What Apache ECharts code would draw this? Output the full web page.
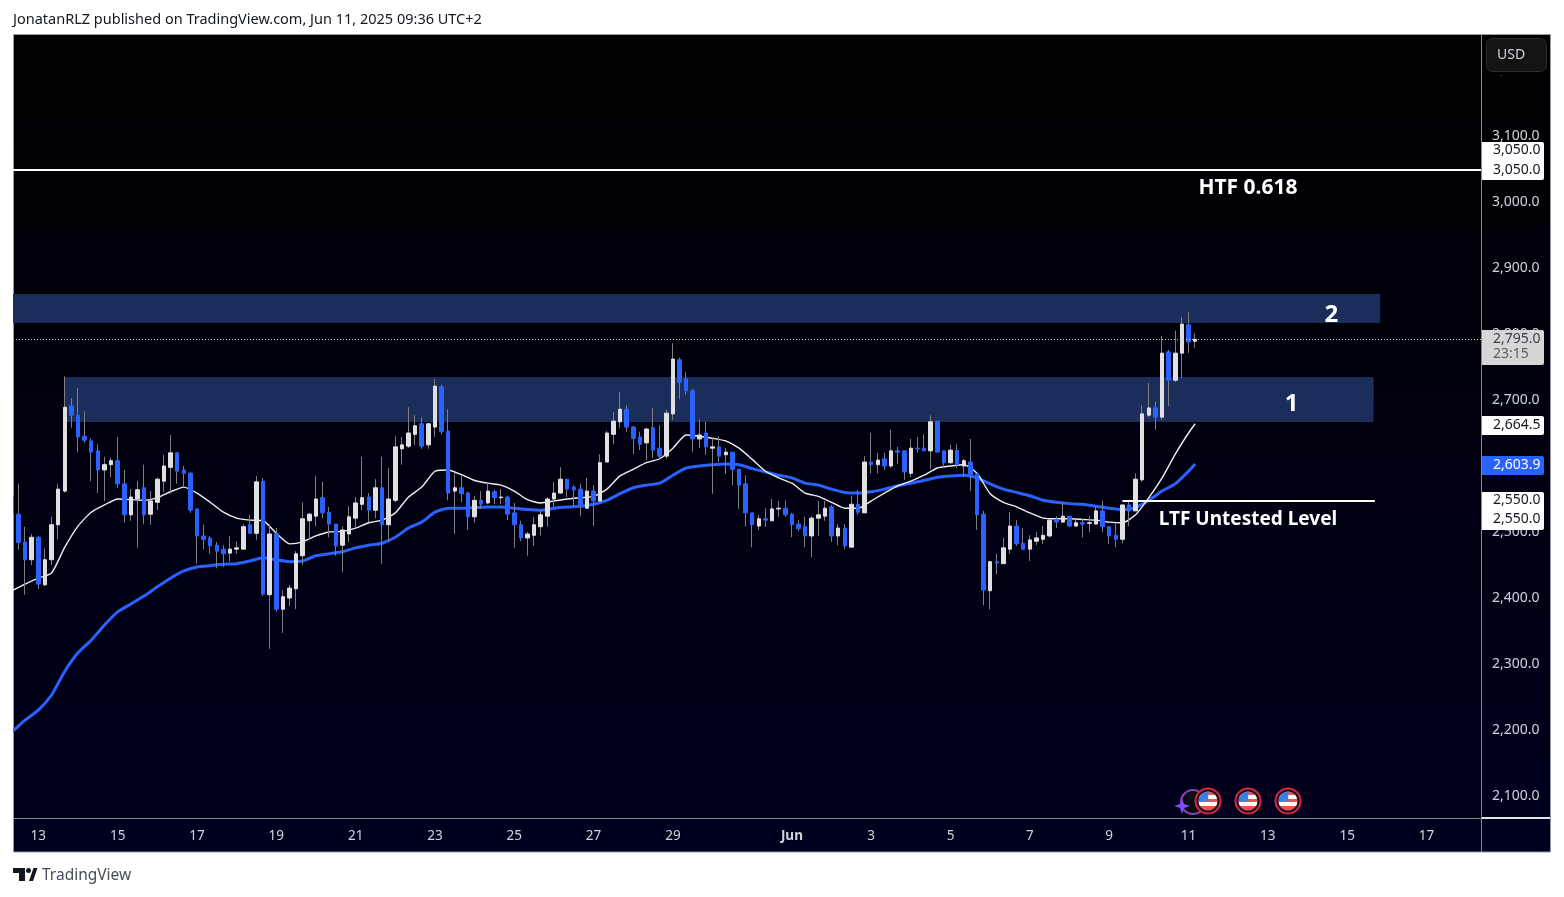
<!DOCTYPE html>
<html>
<head>
<meta charset="utf-8">
<style>html,body{margin:0;padding:0;background:#fff}#chart{width:1564px;height:897px}</style>
<script src="https://cdn.jsdelivr.net/npm/echarts@6/dist/echarts.min.js"></script>
</head>
<body>
<div id="chart"></div>
<script>
// 4h candles, first bar May 12 08:00 UTC
const firstBar = Date.UTC(2025, 4, 12, 8)
const barMs = 4 * 3600 * 1000

const opens = [
  2554,2527,2485,2458,2492,2420,2458,2511,2562,2691,
  2677,2645,2638,2623,2594,2602,2608,2573,2526,2550,
  2567,2527,2545,2577,2598,2620,2594,2589,2535,2494,
  2491,2480,2474,2468,2474,2474,2511,2498,2577,2405,
  2497,2383,2400,2414,2464,2517,2524,2552,2530,2512,
  2480,2497,2521,2542,2553,2533,2567,2511,2548,2626,
  2630,2648,2664,2632,2659,2720,2653,2562,2567,2559,
  2523,2548,2544,2561,2552,2553,2529,2511,2491,2495,
  2508,2524,2550,2559,2580,2568,2565,2536,2562,2547,
  2606,2648,2667,2686,2659,2644,2635,2658,2627,2615,
  2679,2761,2732,2714,2641,2650,2627,2629,2617,2621,
  2595,2573,2529,2509,2520,2517,2535,2536,2527,2512,
  2508,2494,2521,2524,2538,2494,2506,2477,2542,2529,
  2606,2602,2611,2600,2623,2623,2589,2627,2627,2623,
  2668,2623,2605,2624,2600,2606,2588,2527,2411,2455,
  2452,2474,2509,2483,2474,2486,2489,2494,2519,2515,
  2524,2509,2514,2513,2512,2532,2508,2495,2489,2541,
  2532,2579,2677,2688,2674,2773,2730,2771,2814,2789
]
const closes = [
  2528,2484,2458,2492,2421,2458,2511,2565,2689,2677,
  2644,2639,2621,2594,2602,2608,2573,2526,2553,2564,
  2526,2547,2580,2600,2620,2592,2589,2533,2494,2489,
  2479,2471,2467,2474,2476,2508,2498,2576,2406,2497,
  2383,2402,2415,2467,2520,2527,2550,2529,2512,2479,
  2503,2523,2544,2552,2533,2567,2511,2550,2629,2632,
  2650,2661,2630,2664,2721,2652,2559,2567,2558,2523,
  2548,2542,2562,2552,2553,2527,2511,2491,2497,2511,
  2526,2550,2559,2580,2565,2564,2539,2562,2547,2605,
  2650,2668,2686,2659,2642,2633,2656,2624,2615,2680,
  2762,2727,2714,2641,2647,2629,2629,2615,2621,2595,
  2571,2529,2511,2520,2518,2535,2536,2526,2511,2505,
  2494,2521,2526,2536,2494,2506,2479,2542,2530,2606,
  2602,2609,2600,2623,2621,2591,2627,2626,2623,2667,
  2621,2605,2624,2602,2608,2586,2526,2412,2455,2453,
  2476,2509,2482,2474,2488,2491,2495,2518,2515,2524,
  2509,2514,2512,2514,2532,2508,2494,2489,2541,2532,
  2580,2679,2688,2674,2771,2730,2771,2815,2788,2792
]
const highs = [
  2569,2573,2508,2497,2494,2475,2523,2573,2736,2703,
  2718,2683,2642,2633,2614,2612,2644,2594,2565,2577,
  2602,2562,2582,2617,2647,2621,2600,2591,2535,2511,
  2494,2485,2480,2494,2486,2512,2526,2585,2582,2512,
  2506,2412,2420,2471,2545,2529,2585,2576,2538,2512,
  2509,2539,2553,2614,2559,2580,2614,2597,2645,2644,
  2689,2677,2674,2664,2732,2723,2686,2589,2586,2561,
  2555,2562,2574,2564,2565,2555,2544,2517,2500,2523,
  2533,2553,2576,2598,2580,2571,2573,2582,2571,2618,
  2653,2682,2712,2692,2661,2652,2658,2688,2662,2685,
  2786,2764,2742,2717,2671,2667,2642,2645,2627,2621,
  2595,2586,2529,2526,2536,2550,2547,2548,2529,2518,
  2523,2524,2547,2547,2541,2512,2512,2555,2564,2615,
  2650,2620,2620,2655,2629,2623,2641,2644,2648,2677,
  2668,2623,2632,2633,2611,2641,2588,2532,2456,2467,
  2491,2530,2518,2506,2495,2500,2509,2520,2524,2545,
  2524,2518,2520,2524,2539,2547,2508,2514,2541,2547,
  2589,2692,2726,2698,2797,2776,2805,2826,2833,2801
]
const lows = [
  2523,2473,2405,2450,2414,2418,2450,2489,2560,2658,
  2621,2635,2577,2559,2547,2583,2567,2514,2517,2476,
  2512,2511,2533,2561,2558,2573,2568,2529,2452,2474,
  2467,2445,2447,2455,2467,2474,2497,2488,2403,2323,
  2379,2347,2388,2383,2450,2489,2509,2521,2492,2464,
  2439,2485,2506,2533,2515,2521,2452,2486,2545,2602,
  2627,2632,2626,2626,2644,2648,2548,2497,2545,2503,
  2514,2535,2542,2542,2542,2518,2476,2486,2464,2479,
  2495,2508,2538,2558,2553,2539,2524,2536,2509,2545,
  2606,2633,2658,2652,2618,2624,2609,2612,2611,2611,
  2670,2701,2708,2621,2627,2617,2558,2606,2588,2571,
  2535,2508,2477,2503,2508,2517,2523,2523,2492,2501,
  2477,2462,2494,2517,2485,2480,2474,2477,2526,2529,
  2589,2589,2594,2597,2603,2579,2583,2620,2623,2595,
  2621,2598,2603,2597,2583,2562,2503,2389,2383,2436,
  2452,2467,2479,2473,2456,2480,2482,2492,2506,2515,
  2508,2508,2492,2500,2512,2500,2482,2477,2483,2509,
  2532,2576,2674,2655,2670,2691,2727,2733,2771,2779
]

// moving averages, read every second bar, the last entry is the last bar
const slowMa = [
  2197,2215,2230,2253,2289,2317,2336,2359,2379,2391,
  2403,2417,2430,2441,2447,2449,2451,2452,2456,2461,
  2458,2455,2456,2464,2467,2470,2476,2480,2483,2492,
  2506,2515,2530,2536,2536,2537,2538,2538,2536,2534,
  2533,2536,2538,2539,2542,2548,2558,2567,2571,2574,
  2586,2597,2600,2602,2603,2602,2596,2591,2586,2582,
  2574,2571,2565,2560,2559,2561,2565,2570,2574,2578,
  2583,2585,2586,2582,2573,2565,2560,2555,2548,2545,
  2543,2542,2539,2536,2534,2537,2548,2562,2573,2592,
  2603
]
const fastMa = [
  2411,2421,2430,2438,2477,2509,2530,2541,2550,2549,
  2548,2552,2561,2568,2559,2545,2530,2521,2518,2517,
  2498,2482,2485,2494,2500,2501,2506,2514,2518,2529,
  2553,2568,2592,2594,2587,2578,2574,2571,2562,2549,
  2544,2547,2550,2552,2554,2565,2585,2595,2605,2611,
  2627,2647,2645,2642,2638,2627,2610,2592,2582,2574,
  2559,2554,2545,2536,2536,2547,2559,2570,2577,2586,
  2597,2600,2602,2589,2558,2545,2538,2529,2521,2520,
  2520,2519,2518,2515,2514,2526,2552,2582,2618,2650,
  2664
]

const yTicks = [2100,2200,2300,2400,2500,2600,2700,2800,2900,3000,3100,3200]
const xTickDays = ['2025-05-13','2025-05-15','2025-05-17','2025-05-19','2025-05-21','2025-05-23','2025-05-25','2025-05-27','2025-05-29','2025-06-01','2025-06-03','2025-06-05','2025-06-07','2025-06-09','2025-06-11','2025-06-13','2025-06-15','2025-06-17']
const xTickLabels = ['13','15','17','19','21','23','25','27','29','Jun','3','5','7','9','11','13','15','17']

// levels and zones drawn on the chart
const htfLevel = 3048.5
const ltfLevel = 2547
const lastPrice = 2792
const zoneOne = [2666.7, 2734.8]
const zoneTwo = [2816.7, 2860.6]

const FONT = '"Noto Sans", sans-serif'
const TEXT = '#d1d4dc'
const BLUE = '#2962ff'
const BODY = '#e0e0e0'
const WICK = '#7f7f7f'
const GRID = '#8a8a8a'

const barTime = i => firstBar + i * barMs
const tickTimes = xTickDays.map(d => Date.parse(d + 'T00:00:00Z'))
const priceLabel = v => v.toLocaleString('en-US', {minimumFractionDigits: 1})

const wickData = opens.map((o, i) => [barTime(i), o, closes[i], lows[i], highs[i]])
const bodyData = opens.map((o, i) => [barTime(i), o, closes[i], Math.min(o, closes[i]), Math.max(o, closes[i])])
const maTime = k => barTime(Math.min(k * 2, opens.length - 1))

function note(text, bar, price, fontSize){
    return {
        coord: [barTime(bar), price],
        symbol: 'circle',
        symbolSize: 0,
        label: {show: true, position: 'inside', formatter: text, color: '#fff', fontFamily: FONT, fontWeight: 'bold', fontSize: fontSize}
    }
}

// right axis tag: box plus text rows
function tag(top, height, fill, rows){
    const out = [{
        type: 'rect', z: 50,
        shape: {x: 1482, y: top, width: 62, height: height, r: [0, 2, 2, 0]},
        style: {fill: fill}
    }]
    rows.forEach(r => out.push({
        type: 'text', z: 51, x: 1493, y: r.y,
        style: {text: r.text, fill: r.color, font: '14px ' + FONT, align: 'left', verticalAlign: 'middle'}
    }))
    return out
}

function flag(cx, cy){
    const stripes = new echarts.graphic.LinearGradient(0, 0, 0, 1, [
        {offset: 0, color: '#ef5350'}, {offset: .2, color: '#ef5350'},
        {offset: .2, color: '#fff'}, {offset: .38, color: '#fff'},
        {offset: .38, color: '#ef5350'}, {offset: .56, color: '#ef5350'},
        {offset: .56, color: '#fff'}, {offset: .76, color: '#fff'},
        {offset: .76, color: '#ef5350'}, {offset: 1, color: '#ef5350'}
    ])
    return [
        {type: 'circle', z: 40, shape: {cx: cx, cy: cy, r: 13.5}, style: {fill: '#d7263d'}},
        {type: 'circle', z: 41, shape: {cx: cx, cy: cy, r: 11.5}, style: {fill: '#131722'}},
        {type: 'circle', z: 42, shape: {cx: cx, cy: cy, r: 9.5}, style: {fill: stripes}},
        {type: 'sector', z: 43, shape: {cx: cx, cy: cy, r: 9.5, startAngle: Math.PI * 0.98, endAngle: Math.PI * 1.52}, style: {fill: '#3f7fe0'}}
    ]
}

const chrome = [
    {
        type: 'rect', z: -1,
        shape: {x: 13.5, y: 34.5, width: 1537, height: 817.5},
        style: {
            fill: new echarts.graphic.LinearGradient(0, 0, 0, 1, [{offset: 0, color: '#000000'}, {offset: 1, color: '#00001f'}]),
            stroke: '#9a9aa4', lineWidth: 1
        }
    },
    // first candle is cut by the pane edge
    {type: 'rect', z: 45, shape: {x: 0, y: 36, width: 13, height: 816}, style: {fill: '#fff'}},
    {type: 'text', x: 13, y: 19.5, style: {text: 'JonatanRLZ published on TradingView.com, Jun 11, 2025 09:36 UTC+2', fill: '#131722', font: '14.5px ' + FONT, verticalAlign: 'middle'}},
    {type: 'polygon', shape: {points: [[13,868],[25,868],[25,881],[19,881],[19,873],[13,873]]}, style: {fill: '#131722'}},
    {type: 'circle', shape: {cx: 28.5, cy: 870.5, r: 2.5}, style: {fill: '#131722'}},
    {type: 'polygon', shape: {points: [[29,881],[33.5,868],[37.5,868],[33,881]]}, style: {fill: '#131722'}},
    {type: 'text', x: 42, y: 876, style: {text: 'TradingView', fill: '#4a4e59', font: '15.5px ' + FONT, verticalAlign: 'middle'}},
    // price column separator and time column divider
    {type: 'rect', z: 1, shape: {x: 1482, y: 817, width: 68, height: 2}, style: {fill: '#e8e8e8'}},
    {type: 'line', z: 1, shape: {x1: 1481.5, y1: 818, x2: 1481.5, y2: 852}, style: {stroke: GRID, lineWidth: 1}},
    // label of the tick behind the button
    {type: 'rect', z: 49, shape: {x: 1482, y: 70, width: 68, height: 5.5}, style: {fill: '#000'}},
    {type: 'rect', z: 50, shape: {x: 1486.5, y: 38.5, width: 60, height: 33, r: 6}, style: {fill: '#131313', stroke: '#2c2c2c', lineWidth: 1}},
    {type: 'text', z: 51, x: 1497, y: 55, style: {text: 'USD', fill: TEXT, font: '14px ' + FONT, verticalAlign: 'middle'}},
    // event icons
    {type: 'circle', z: 39, shape: {cx: 1193, cy: 802, r: 12}, style: {fill: '#0b0b14', stroke: '#8e44ad', lineWidth: 2}},
    {type: 'polygon', z: 44, shape: {points: [[1182,798],[1184,804],[1190,806],[1184,808],[1182,814],[1180,808],[1174,806],[1180,804]]}, style: {fill: '#7c4dff'}}
].concat(
    flag(1208, 801), flag(1248, 801), flag(1288, 801),
    tag(142, 38, '#fff', [{text: '3,050.0', y: 150.5, color: '#131722'}, {text: '3,050.0', y: 170, color: '#131722'}]),
    tag(330, 35, '#d6d6d6', [{text: '2,795.0', y: 339, color: '#3a3e49'}, {text: '23:15', y: 354, color: '#5d606b'}]),
    tag(416, 19, '#fff', [{text: '2,664.5', y: 425, color: '#131722'}]),
    tag(456, 19, BLUE, [{text: '2,603.9', y: 465, color: '#fff'}]),
    tag(492, 38, '#fff', [{text: '2,550.0', y: 500.5, color: '#131722'}, {text: '2,550.0', y: 519.5, color: '#131722'}])
)

const chart = echarts.init(document.getElementById('chart'))
chart.setOption({
    animation: false,
    backgroundColor: '#fff',
    graphic: {elements: chrome},
    grid: {left: 13, top: 35, width: 1468, height: 783},
    xAxis: {
        type: 'value',
        min: barTime(0.166),
        max: barTime(222.25),
        splitLine: {show: false},
        axisTick: {show: false},
        axisLine: {lineStyle: {color: GRID}},
        axisLabel: {
            customValues: tickTimes,
            hideOverlap: false,
            margin: 11,
            color: TEXT,
            fontFamily: FONT,
            fontSize: 13.5,
            formatter: function(v){
                const s = xTickLabels[tickTimes.indexOf(v)]
                return s === 'Jun' ? '{b|Jun}' : s
            },
            rich: {b: {fontWeight: 'bold', fontSize: 13.5, color: TEXT, fontFamily: FONT}}
        }
    },
    yAxis: {
        type: 'value',
        position: 'right',
        min: 2066.67,
        max: 3253.03,
        splitLine: {show: false},
        axisTick: {show: false},
        axisLine: {show: true, lineStyle: {color: GRID}},
        axisLabel: {
            customValues: yTicks,
            margin: 11,
            padding: [4, 0, 0, 0],
            color: TEXT,
            fontFamily: FONT,
            fontSize: 14,
            formatter: function(v){ return priceLabel(v) }
        }
    },
    series: [
        {
            name: 'zones',
            type: 'line',
            z: 1,
            data: [],
            markArea: {
                silent: true,
                itemStyle: {color: '#1b2d5a'},
                data: [
                    [{xAxis: barTime(8), yAxis: zoneOne[1]}, {xAxis: barTime(206), yAxis: zoneOne[0]}],
                    [{xAxis: barTime(0.166), yAxis: zoneTwo[1]}, {xAxis: barTime(207), yAxis: zoneTwo[0]}]
                ]
            }
        },
        {
            name: 'Slow MA',
            type: 'line',
            z: 2,
            showSymbol: false,
            smooth: 0.2,
            lineStyle: {color: BLUE, width: 3},
            data: slowMa.map((v, k) => [maTime(k), v])
        },
        {
            name: 'Fast MA',
            type: 'line',
            z: 2,
            showSymbol: false,
            smooth: 0.2,
            lineStyle: {color: '#eeeeee', width: 1.4},
            data: fastMa.map((v, k) => [maTime(k), v])
        },
        {
            name: 'wicks',
            type: 'candlestick',
            z: 3,
            barWidth: 1,
            encode: {x: 0, y: [1, 2, 3, 4]},
            itemStyle: {color: WICK, color0: WICK, borderColor: WICK, borderColor0: WICK, borderWidth: 1},
            data: wickData
        },
        {
            name: 'bodies',
            type: 'candlestick',
            z: 4,
            barWidth: 4,
            encode: {x: 0, y: [1, 2, 3, 4]},
            itemStyle: {color: BODY, color0: BLUE, borderColor: BODY, borderColor0: BLUE, borderWidth: 1},
            data: bodyData,
            markLine: {
                silent: true,
                symbol: 'none',
                label: {show: false},
                data: [
                    {yAxis: htfLevel, lineStyle: {color: '#fff', width: 2, type: 'solid'}},
                    {yAxis: lastPrice, lineStyle: {color: '#d8d8d8', width: 1, type: [1, 2]}},
                    [
                        {coord: [barTime(168), ltfLevel], lineStyle: {color: '#fff', width: 2, type: 'solid'}},
                        {coord: [barTime(206.2), ltfLevel]}
                    ]
                ]
            },
            markPoint: {
                silent: true,
                data: [
                    note('HTF 0.618', 187, 3021, 21),
                    note('LTF Untested Level', 187, 2519, 19),
                    note('1', 193.6, 2693, 24),
                    note('2', 199.6, 2828, 24)
                ]
            }
        }
    ]
})
</script>
</body>
</html>
